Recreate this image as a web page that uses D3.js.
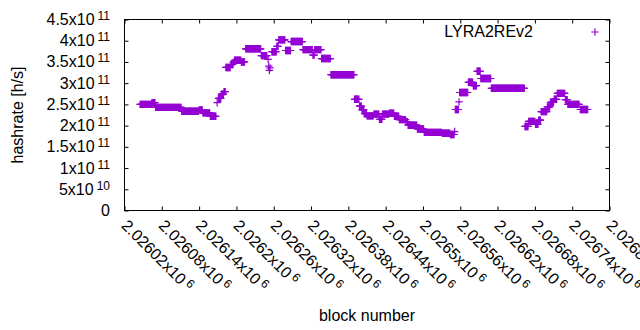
<!DOCTYPE html>
<html>
<head>
<meta charset="utf-8">
<script src="https://cdn.jsdelivr.net/npm/d3@7"></script>
<style>
  body { margin: 0; background: #fff; }
  text { font-family: "Liberation Sans", Arial, sans-serif; fill: #000; }
</style>
</head>
<body>
<div id="chart"></div>
<script>

// Set dimensions and margins for the plot
const width = 640;
const height = 330;
const margin = {left: 124.5, right: 30.5, top: 19.5, bottom: 119.5};
const fontSize = 16;
const supSize = 12;
const tickLen = 4;
const purple = "#9400d3";

// hashrate runs: consecutive blocks that share the same value
const runStart = [2026045, 2026064, 2026070, 2026112, 2026140, 2026146, 2026158, 2026169, 2026171, 2026176,
                  2026180, 2026183, 2026191, 2026195, 2026197, 2026208, 2026215, 2026240, 2026251, 2026252,
                  2026253, 2026254, 2026257, 2026265, 2026268, 2026279, 2026288, 2026307, 2026323, 2026326,
                  2026337, 2026352, 2026390, 2026398, 2026402, 2026406, 2026410, 2026421, 2026430, 2026435,
                  2026446, 2026454, 2026462, 2026473, 2026476, 2026491, 2026502, 2026531, 2026544, 2026551,
                  2026552, 2026558, 2026559, 2026573, 2026581, 2026587, 2026593, 2026610, 2026664, 2026670,
                  2026681, 2026686, 2026690, 2026700, 2026705, 2026711, 2026716, 2026729, 2026733, 2026753];
const runEnd   = [2026063, 2026069, 2026111, 2026139, 2026145, 2026157, 2026167, 2026169, 2026175, 2026179,
                  2026182, 2026190, 2026194, 2026196, 2026207, 2026213, 2026239, 2026249, 2026251, 2026252,
                  2026253, 2026254, 2026264, 2026267, 2026278, 2026287, 2026306, 2026322, 2026325, 2026336,
                  2026351, 2026389, 2026397, 2026401, 2026405, 2026409, 2026420, 2026429, 2026434, 2026445,
                  2026453, 2026461, 2026472, 2026475, 2026490, 2026501, 2026530, 2026543, 2026550, 2026551,
                  2026557, 2026558, 2026572, 2026580, 2026586, 2026592, 2026609, 2026663, 2026669, 2026680,
                  2026685, 2026689, 2026699, 2026704, 2026710, 2026715, 2026728, 2026732, 2026751, 2026765];
const runValue = [2.50e11, 2.54e11, 2.43e11, 2.34e11, 2.37e11, 2.30e11, 2.22e11, 2.54e11, 2.64e11, 2.74e11,
                  2.80e11, 3.37e11, 3.44e11, 3.49e11, 3.54e11, 3.50e11, 3.81e11, 3.65e11, 3.56e11, 3.40e11,
                  3.30e11, 3.36e11, 3.74e11, 3.87e11, 4.02e11, 3.77e11, 3.98e11, 3.79e11, 3.66e11, 3.79e11,
                  3.58e11, 3.20e11, 2.62e11, 2.46e11, 2.37e11, 2.28e11, 2.23e11, 2.27e11, 2.15e11, 2.27e11,
                  2.29e11, 2.22e11, 2.14e11, 2.09e11, 2.01e11, 1.92e11, 1.84e11, 1.82e11, 1.79e11, 1.86e11,
                  2.38e11, 2.56e11, 2.78e11, 3.02e11, 2.94e11, 3.28e11, 3.11e11, 2.88e11, 1.98e11, 2.10e11,
                  2.03e11, 2.13e11, 2.33e11, 2.44e11, 2.55e11, 2.62e11, 2.76e11, 2.61e11, 2.50e11, 2.38e11];

// tick values and their labels (mantissa + superscript exponent)
const yTicks    = [0, 5e10, 1e11, 1.5e11, 2e11, 2.5e11, 3e11, 3.5e11, 4e11, 4.5e11];
const yTickMant = ["0", "5x10", "1x10", "1.5x10", "2x10", "2.5x10", "3x10", "3.5x10", "4x10", "4.5x10"];
const yTickExp  = ["", "10", "11", "11", "11", "11", "11", "11", "11", "11"];
const xTicks    = [2026020, 2026080, 2026140, 2026200, 2026260, 2026320, 2026380,
                   2026440, 2026500, 2026560, 2026620, 2026680, 2026740, 2026800];
const xTickMant = ["2.02602x10", "2.02608x10", "2.02614x10", "2.0262x10", "2.02626x10", "2.02632x10", "2.02638x10",
                   "2.02644x10", "2.0265x10", "2.02656x10", "2.02662x10", "2.02668x10", "2.02674x10", "2.0268x10"];
const xTickExp  = "6";

// one point per block, expanded from the runs above
const points = [];
runStart.forEach((s, i) => {
  for (let b = s; b <= runEnd[i]; b++) points.push({block: b, rate: runValue[i]});
});

const svg = d3.select("#chart")
  .append("svg")
  .attr("width", width)
  .attr("height", height);

const x = d3.scaleLinear()
  .domain([2026020, 2026800])
  .range([margin.left, width - margin.right]);

const y = d3.scaleLinear()
  .domain([0, 4.5e11])
  .range([height - margin.bottom, margin.top]);

/*

  Axes (gnuplot style: inward ticks, mirrored on top and right)

*/

const bottom = height - margin.bottom;
const right = width - margin.right;

svg.append("g")
  .attr("transform", `translate(0,${bottom})`)
  .call(d3.axisBottom(x).tickValues(xTicks).tickSize(-tickLen).tickSizeOuter(0).tickFormat(""))
  .call(g => g.select(".domain").remove());

svg.append("g")
  .attr("transform", `translate(0,${margin.top})`)
  .call(d3.axisTop(x).tickValues(xTicks).tickSize(-tickLen).tickSizeOuter(0).tickFormat(""))
  .call(g => g.select(".domain").remove());

svg.append("g")
  .attr("transform", `translate(${margin.left},0)`)
  .call(d3.axisLeft(y).tickValues(yTicks).tickSize(-tickLen).tickSizeOuter(0).tickFormat(""))
  .call(g => g.select(".domain").remove());

svg.append("g")
  .attr("transform", `translate(${right},0)`)
  .call(d3.axisRight(y).tickValues(yTicks).tickSize(-tickLen).tickSizeOuter(0).tickFormat(""))
  .call(g => g.select(".domain").remove());

svg.selectAll(".tick line").attr("stroke", "#000");

// border
svg.append("rect")
  .attr("x", margin.left)
  .attr("y", margin.top)
  .attr("width", right - margin.left)
  .attr("height", bottom - margin.top)
  .attr("fill", "none")
  .attr("stroke", "#000")
  .attr("stroke-width", 1);

// y tick labels, right aligned
const yLab = svg.append("g")
  .selectAll("text")
  .data(yTicks)
  .enter()
  .append("text")
    .attr("x", 110)
    .attr("y", d => y(d) + 5.5)
    .attr("text-anchor", "end")
    .attr("font-size", fontSize);

yLab.append("tspan").text((d, i) => yTickMant[i]);
yLab.append("tspan")
  .attr("dx", (d, i) => yTickExp[i] ? 3 : 0)
  .attr("dy", -5)
  .attr("font-size", supSize)
  .text((d, i) => yTickExp[i]);

// x tick labels, rotated by 45 degrees
const xLab = svg.append("g")
  .selectAll("text")
  .data(xTicks)
  .enter()
  .append("text")
    .attr("transform", d => `translate(${x(d) - 4},${bottom + 16}) rotate(45)`)
    .attr("font-size", fontSize);

xLab.append("tspan").text((d, i) => xTickMant[i]);
xLab.append("tspan")
  .attr("dx", 3)
  .attr("dy", -5)
  .attr("font-size", supSize)
  .text(xTickExp);

// axis titles
svg.append("text")
  .attr("transform", `translate(23,${(margin.top + bottom) / 2}) rotate(-90)`)
  .attr("text-anchor", "middle")
  .attr("font-size", fontSize)
  .text("hashrate [h/s]");

svg.append("text")
  .attr("x", (margin.left + right) / 2)
  .attr("y", 321)
  .attr("text-anchor", "middle")
  .attr("font-size", fontSize)
  .text("block number");

/*

  Points

*/

const plus = "M-3.7,0H3.7M0,-3.7V3.7";

svg.append("g")
  .selectAll("path")
  .data(points)
  .enter()
  .append("path")
    .attr("transform", d => `translate(${x(d.block)},${y(d.rate)})`)
    .attr("d", plus)
    .attr("fill", "none")
    .attr("stroke", purple)
    .attr("stroke-width", 1.2);

// legend
svg.append("text")
  .attr("x", 533)
  .attr("y", 37)
  .attr("text-anchor", "end")
  .attr("font-size", fontSize)
  .text("LYRA2REv2");

svg.append("path")
  .attr("transform", "translate(595,32)")
  .attr("d", plus)
  .attr("fill", "none")
  .attr("stroke", purple)
  .attr("stroke-width", 1.2);

</script>
</body>
</html>
